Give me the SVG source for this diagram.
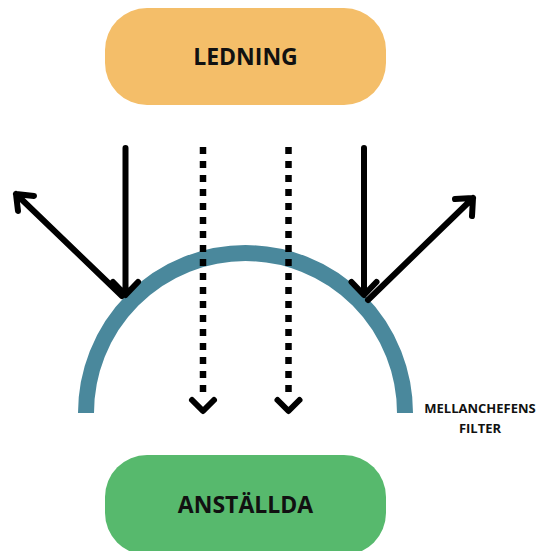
<svg xmlns="http://www.w3.org/2000/svg" width="549" height="551" viewBox="0 0 549 551">
<style>
.lbl{font-family:"Open Sans","Noto Sans",sans-serif;font-weight:bold;fill:#111;text-anchor:middle}
.ar{stroke:#000;stroke-width:6;fill:none;stroke-linecap:round;stroke-linejoin:round}
.dot{stroke:#000;stroke-width:6.5;fill:none;stroke-dasharray:7 7}
</style>
<rect width="549" height="551" fill="#fff"/>
<g id="ledning">
<rect x="105" y="8" width="281" height="97" rx="42" fill="#f4be69"/>
<text class="lbl" x="245.5" y="65" font-size="23">LEDNING</text>
</g>
<g id="anstallda">
<rect x="105" y="455" width="281" height="100" rx="42" fill="#57b96d"/>
<text class="lbl" x="245.5" y="513" font-size="23">ANSTÄLLDA</text>
</g>
<g id="filter">
<path d="M86 413 A159.5 160 0 0 1 405 413" fill="none" stroke="#4a889c" stroke-width="16"/>
<text class="lbl" x="480" y="413" font-size="13">MELLANCHEFENS</text>
<text class="lbl" x="480" y="433" font-size="13">FILTER</text>
</g>
<g id="connectors">
<path class="ar" d="M125.5 148 V294 M113 282 L125.5 295 L138 282"/>
<path class="ar" d="M364 148 V294 M351.5 282 L364 295 L376.5 282"/>
<path class="ar" d="M122 296 L16 194 M16 194 L18 211 M16 194 L34 196"/>
<path class="ar" d="M368 300 L473 198 M473 198 L455 199 M473 198 L472 216"/>
<path class="dot" d="M203 147 V395"/>
<path class="dot" d="M288.5 147 V395"/>
<path class="ar" d="M192 400 L203 411 L214 400"/>
<path class="ar" d="M277.5 400 L288.5 411 L299.5 400"/>
</g>
</svg>
